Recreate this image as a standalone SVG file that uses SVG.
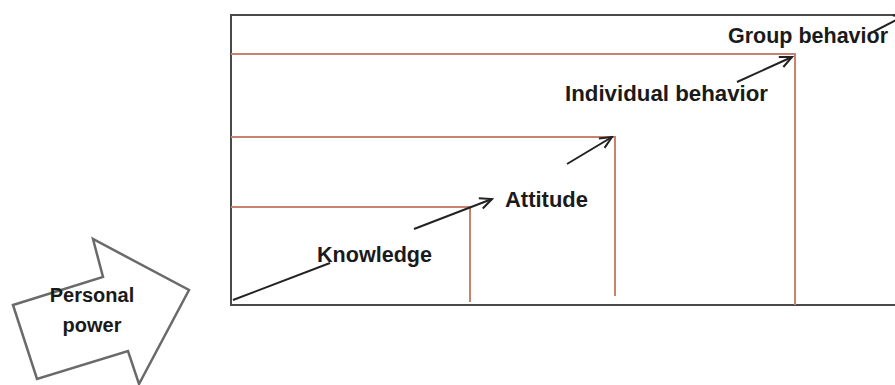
<svg xmlns="http://www.w3.org/2000/svg" width="895" height="385" viewBox="0 0 895 385">
  <style>
    .lbl { font-family: "Liberation Sans", Arial, sans-serif; font-weight: bold; font-size: 22.5px; fill: #1a1a1a; }
    .pp { font-family: "Liberation Sans", Arial, sans-serif; font-weight: bold; font-size: 20px; fill: #1a1a1a; text-anchor: middle; }
    .frame { fill: none; stroke: #4a4a4a; stroke-width: 2; }
    .step { fill: none; stroke: #c8826e; stroke-width: 2; }
    .link { fill: none; stroke: #222; stroke-width: 2; }
    .bigarrow { fill: #fff; stroke: #6a6a6a; stroke-width: 2.5; stroke-linejoin: miter; }
  </style>
  <defs>
    <marker id="head" markerUnits="userSpaceOnUse" markerWidth="16" markerHeight="16" viewBox="-14 -8 16 16" refX="0" refY="0" orient="auto">
      <path d="M-12,-5.5 L0,0 L-12,5.5" fill="none" stroke="#222" stroke-width="2"/>
    </marker>
  </defs>

  <rect width="895" height="385" fill="#fff"/>

  <!-- outer frame, open to the right -->
  <g id="frame">
    <path class="frame" d="M897,15 H231 V305 H897"/>
  </g>

  <!-- staircase of levels -->
  <g id="level-knowledge">
    <path class="step" d="M231,207 H470 V302"/>
    <text class="lbl" x="317" y="262" textLength="115" lengthAdjust="spacingAndGlyphs">Knowledge</text>
  </g>
  <g id="level-attitude">
    <path class="step" d="M231,137 H615 V296"/>
    <text class="lbl" x="505" y="207" textLength="83" lengthAdjust="spacingAndGlyphs">Attitude</text>
  </g>
  <g id="level-individual">
    <path class="step" d="M231,54 H795 V305"/>
    <text class="lbl" x="565" y="101" textLength="203" lengthAdjust="spacingAndGlyphs">Individual behavior</text>
  </g>
  <g id="level-group">
    <text class="lbl" x="728" y="43" textLength="160" lengthAdjust="spacingAndGlyphs">Group behavior</text>
  </g>

  <!-- personal power block arrow -->
  <g id="personal-power">
    <polygon class="bigarrow" points="13,305 103,277 93,239 189,290 139,384 128,351 37,379"/>
    <text class="pp" x="92" y="302">Personal</text>
    <text class="pp" x="92" y="332">power</text>
  </g>

  <!-- progression arrows -->
  <g id="connectors">
    <line class="link" x1="233" y1="300" x2="330" y2="263"/>
    <line class="link" x1="414" y1="229" x2="492" y2="199" marker-end="url(#head)"/>
    <line class="link" x1="567" y1="164" x2="612" y2="137" marker-end="url(#head)"/>
    <line class="link" x1="737" y1="82" x2="792" y2="57" marker-end="url(#head)"/>
    <line class="link" x1="871" y1="33" x2="906" y2="15" marker-end="url(#head)"/>
  </g>
</svg>
